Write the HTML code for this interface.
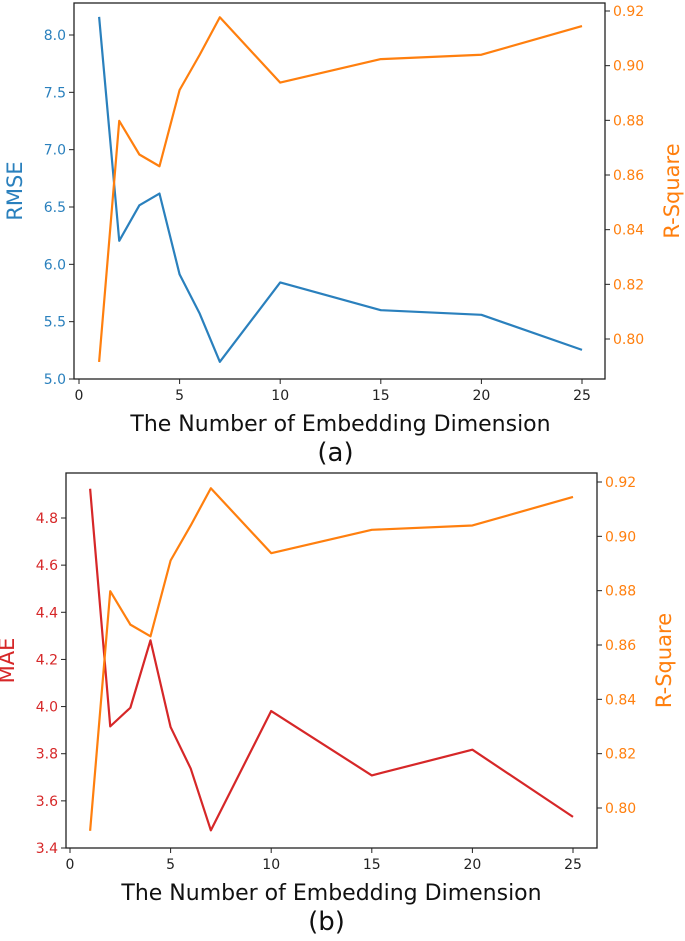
<!DOCTYPE html>
<html><head><meta charset="utf-8"><style>
html,body{margin:0;padding:0;background:#fff;}
svg{display:block;font-family:"DejaVu Sans","Liberation Sans",sans-serif;}
</style></head><body>
<svg id="s" width="685" height="941"></svg>
<script>
const dims = [1,2,3,4,5,6,7,10,15,20,25];
const rmse = [8.158,6.205,6.515,6.617,5.912,5.57,5.15,5.842,5.6,5.56,5.254];
const mae = [4.924,3.916,3.995,4.281,3.913,3.737,3.475,3.981,3.708,3.817,3.532];
const rsq = [0.7916,0.8798,0.8675,0.8632,0.8911,0.904,0.9177,0.8938,0.9024,0.904,0.9145];
const xTicks = [0,5,10,15,20,25];
const rmseTicks = ["5.0","5.5","6.0","6.5","7.0","7.5","8.0"];
const maeTicks = ["3.4","3.6","3.8","4.0","4.2","4.4","4.6","4.8"];
const rsqTicks = ["0.80","0.82","0.84","0.86","0.88","0.90","0.92"];
const NS="http://www.w3.org/2000/svg";
const svg=document.getElementById('s');
function mk(tag,attrs,parent,text){const e=document.createElementNS(NS,tag);for(const k in attrs)e.setAttribute(k,attrs[k]);if(text!==undefined)e.textContent=text;(parent||svg).appendChild(e);return e;}
function chart(c){
  const g=mk('g',{});
  
  
  const xs=v=>c.x0+(v-0)*(c.x25-c.x0)/25;
  const yl=v=>c.lb+(v-c.lv0)*(c.lt-c.lb)/(c.lv1-c.lv0);
  const yr=v=>c.rb+(v-0.80)*(c.rt-c.rb)/(0.12);
  const p1=mk('polyline',{points:dims.map((d,i)=>xs(d)+','+yl(c.left[i])).join(' '),fill:'none',stroke:c.lc,'stroke-width':2.2,'stroke-linejoin':'round'},g);
  
  
  const p2=mk('polyline',{points:dims.map((d,i)=>xs(d)+','+yr(rsq[i])).join(' '),fill:'none',stroke:'#ff7f0e','stroke-width':2.2,'stroke-linejoin':'round'},g);
  
  
  const fr=mk('rect',{x:c.bl,y:c.bt,width:c.br-c.bl,height:c.bb-c.bt,fill:'none',stroke:'#222','stroke-width':1.3},g);
  
  
  xTicks.forEach(t=>{const x=xs(t);
    mk('line',{x1:x,y1:c.bb,x2:x,y2:c.bb+5,stroke:'#222'},g);
    const tx=mk('text',{x:x,y:c.bb+21,'text-anchor':'middle','font-size':14,fill:'#222'},g,t);
    
    });
  c.lticks.forEach(t=>{const y=yl(+t);
    mk('line',{x1:c.bl,y1:y,x2:c.bl-5,y2:y,stroke:'#222'},g);
    const tx=mk('text',{x:c.bl-8,y:y+5,'text-anchor':'end','font-size':14,fill:c.lc},g,t);
    
    });
  rsqTicks.forEach(t=>{const y=yr(+t);
    mk('line',{x1:c.br,y1:y,x2:c.br+5,y2:y,stroke:'#222'},g);
    const tx=mk('text',{x:c.br+8,y:y+5,'text-anchor':'start','font-size':14,fill:'#ff7f0e'},g,t);
    
    });
  const ll=mk('text',{x:0,y:0,transform:`translate(${c.bl-52},${(c.bt+c.bb)/2}) rotate(-90)`,'text-anchor':'middle','font-size':21,fill:c.lc},g,c.ltitle);
  
  
  const rl=mk('text',{x:0,y:0,transform:`translate(${c.br+74},${(c.bt+c.bb)/2}) rotate(-90)`,'text-anchor':'middle','font-size':21,fill:'#ff7f0e'},g,'R-Square');
  
  
  const xl=mk('text',{x:(c.x0+c.x25)/2+10,y:c.bb+52,'text-anchor':'middle','font-size':22,fill:'#111'},g,'The Number of Embedding Dimension');
  
  
  const cap=mk('text',{x:(c.x0+c.x25)/2+5,y:c.bb+82,'text-anchor':'middle','font-size':26,fill:'#111'},g,c.cap);
  
  
}
chart({name:'chart-a',x0:79,x25:582,bl:74,br:605,bt:3,bb:379,lb:379,lt:35,lv0:5.0,lv1:8.0,rb:339,rt:11,left:rmse,lc:'#2a80bd',lname:'rmse',lticks:rmseTicks,ltitle:'RMSE',cap:'(a)'});
chart({name:'chart-b',x0:70,x25:573,bl:66,br:597,bt:473,bb:848,lb:848,lt:518,lv0:3.4,lv1:4.8,rb:808,rt:482,left:mae,lc:'#d62728',lname:'mae',lticks:maeTicks,ltitle:'MAE',cap:'(b)'});
</script>
</body></html>
